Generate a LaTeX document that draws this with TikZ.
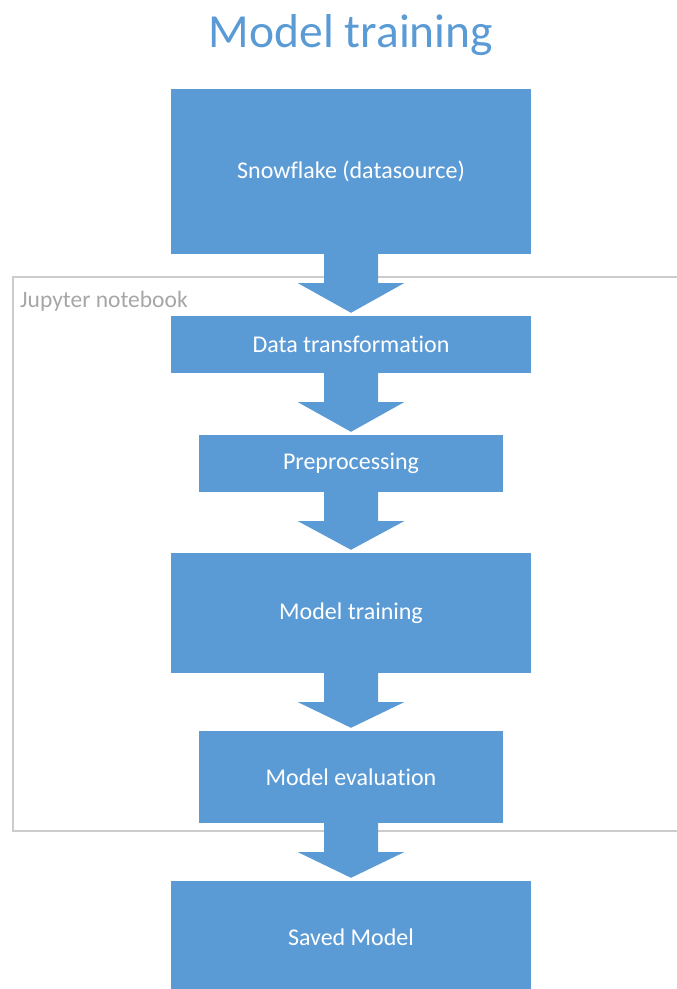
\documentclass[tikz,border=0pt]{standalone}
\usepackage{fontspec}
\setmainfont{Carlito}[Ligatures=NoCommon]
\usetikzlibrary{calc}
\definecolor{boxblue}{HTML}{5B9BD5}
\definecolor{framegray}{HTML}{CCCCCC}
\definecolor{labelgray}{HTML}{A6A6A6}
\tikzset{
  stepbox/.style={fill=boxblue, draw=none, text=white, font=\fontsize{24}{28}\selectfont, inner sep=0pt, anchor=center},
  widebox/.style={stepbox, minimum width=360pt},
  narrowbox/.style={stepbox, minimum width=304pt},
}
\newcommand\blockarrow[2]{%
  \fill[boxblue] ($(#1.south)+(-27,0.5)$) -- ++(0,-29.5) -- ++(-26,0)
    -- ($(#2.north)+(0,3)$) -- ($(#1.south)+(53,-29)$) -- ++(-26,0) -- ($(#1.south)+(27,0.5)$) -- cycle;}
\begin{document}
\begin{tikzpicture}[x=1pt,y=1pt]
\useasboundingbox (0,0) rectangle (677,-989);
\clip (0,0) rectangle (677,-989);
% frame
\draw[framegray, line width=1.6pt] (13,-277) rectangle (700,-831);
\node[anchor=base west, text=labelgray, font=\fontsize{23.5}{27}\selectfont, inner sep=0pt] (lbl) at (20,-307) {Jupyter notebook};
% title
\node[anchor=base, text=boxblue, font=\fontsize{47.5}{54}\selectfont, inner sep=0pt] (title) at (351,-47) {Model training};
% boxes
\node[widebox, minimum height=165pt] (b1) at (351,-171.5) {Snowflake (datasource)};
\node[widebox, minimum height=57pt] (b2) at (351,-344.5) {Data transformation};
\node[narrowbox, minimum height=57pt] (b3) at (351,-463.5) {Preprocessing};
\node[widebox, minimum height=120pt] (b4) at (351,-613) {Model training};
\node[narrowbox, minimum height=92pt] (b5) at (351,-777) {Model evaluation};
\node[widebox, minimum height=112pt] (b6) at (351,-937) {Saved Model};
% arrows
\blockarrow{b1}{b2}
\blockarrow{b2}{b3}
\blockarrow{b3}{b4}
\blockarrow{b4}{b5}
\blockarrow{b5}{b6}
\end{tikzpicture}
\end{document}
